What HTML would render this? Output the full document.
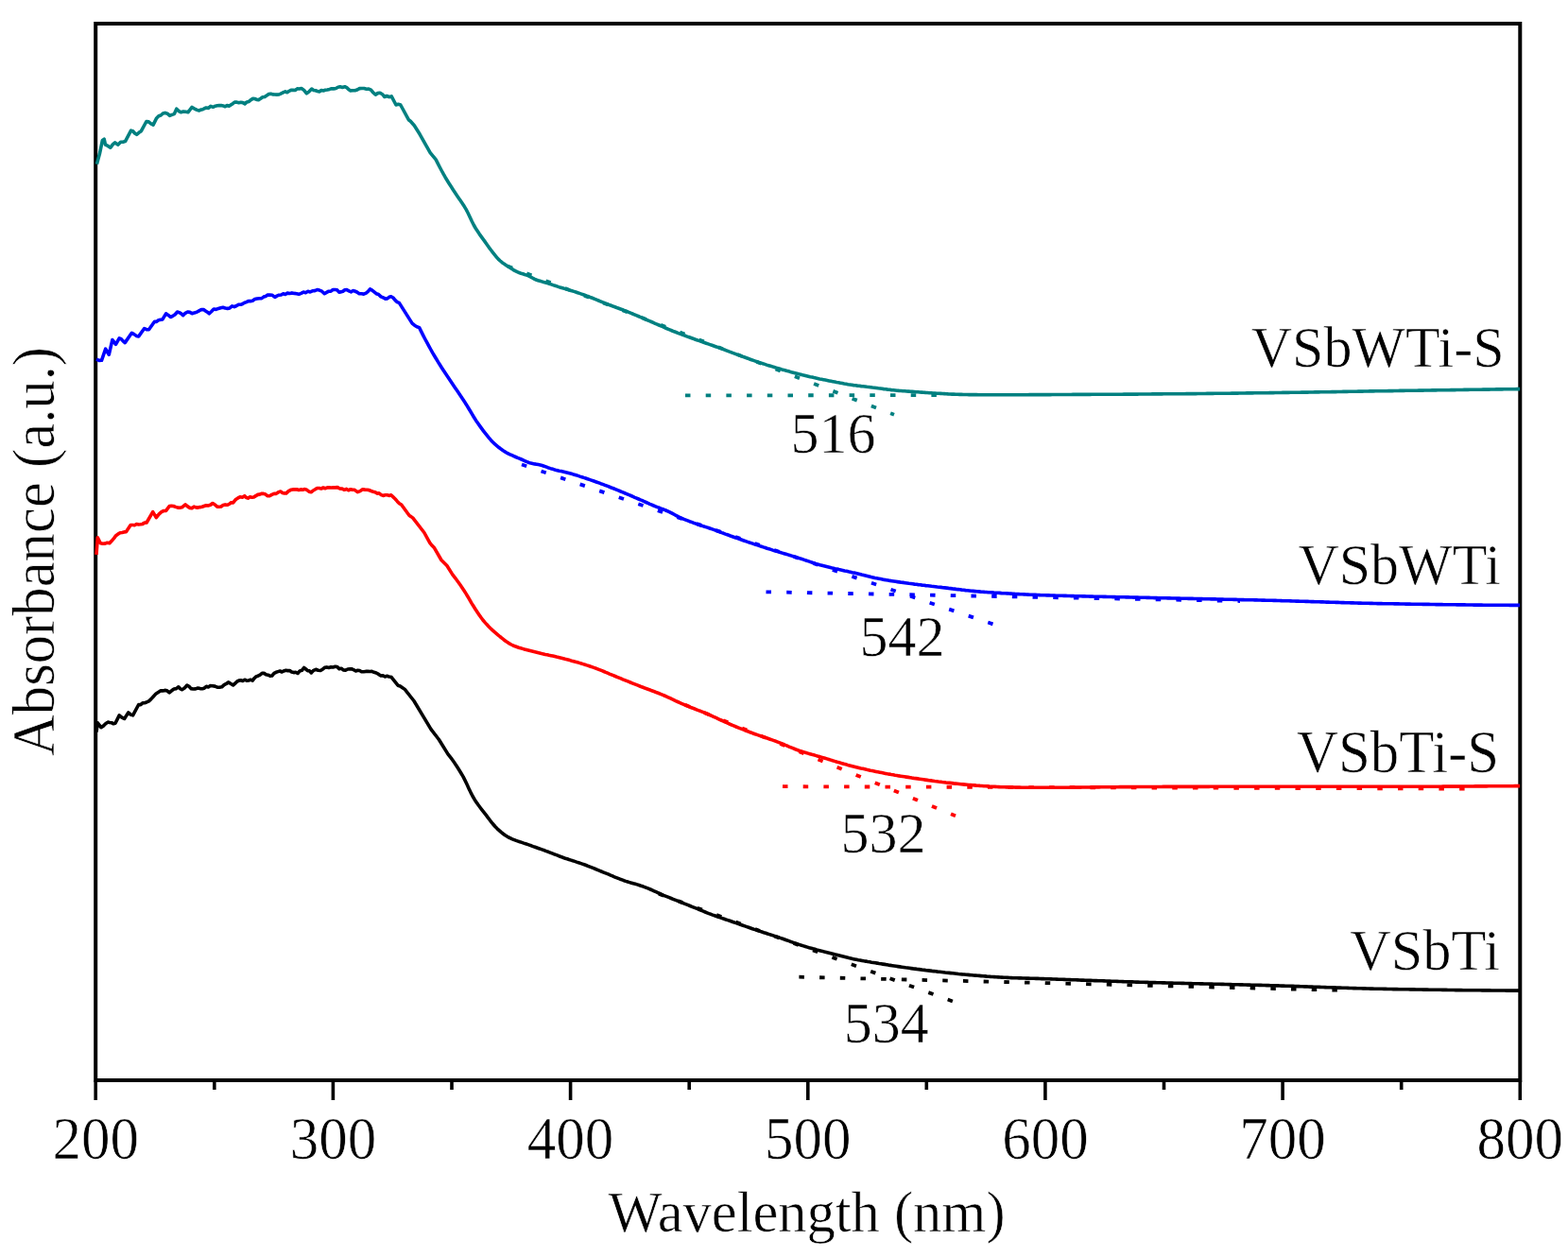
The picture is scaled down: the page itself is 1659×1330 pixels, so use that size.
<!DOCTYPE html>
<html><head><meta charset="utf-8"><title>UV-Vis Absorbance</title>
<style>html,body{margin:0;padding:0;background:#fff;width:1659px;height:1330px;overflow:hidden}svg{display:block}text{font-family:"Liberation Serif","Times New Roman",serif;fill:#000;stroke:#fff;stroke-width:0.6px}</style></head><body>
<svg width="1659" height="1330" viewBox="0 0 1659 1330">
<rect width="1659" height="1330" fill="#fff"/>
<rect x="101.2" y="25" width="1507.1" height="1118" fill="none" stroke="#000" stroke-width="4"/>
<path d="M101.2 1143 V1164 M226.8 1143 V1153 M352.4 1143 V1164 M478 1143 V1153 M603.6 1143 V1164 M729.2 1143 V1153 M854.8 1143 V1164 M980.3 1143 V1153 M1105.9 1143 V1164 M1231.5 1143 V1153 M1357.1 1143 V1164 M1482.7 1143 V1153 M1608.3 1143 V1164" stroke="#000" stroke-width="3.6" fill="none"/>
<g stroke-linecap="butt">
<line x1="725" y1="418.4" x2="1000" y2="418.1" stroke="#008080" stroke-width="3.8" stroke-dasharray="5.5 16.2"/>
<line x1="537" y1="281.6" x2="946" y2="438.7" stroke="#008080" stroke-width="3.8" stroke-dasharray="5.5 16.2"/>
<line x1="810.5" y1="626.3" x2="1312" y2="636" stroke="#0000ff" stroke-width="3.8" stroke-dasharray="5.5 16.2"/>
<line x1="552" y1="491.5" x2="1051" y2="660.5" stroke="#0000ff" stroke-width="3.8" stroke-dasharray="5.5 16.2"/>
<line x1="828" y1="832.2" x2="1560" y2="834.6" stroke="#ff0000" stroke-width="3.8" stroke-dasharray="5.5 16.2"/>
<line x1="725" y1="745.8" x2="1011" y2="863.2" stroke="#ff0000" stroke-width="3.8" stroke-dasharray="5.5 16.2"/>
<line x1="845.4" y1="1033.7" x2="1420" y2="1047.8" stroke="#000" stroke-width="3.8" stroke-dasharray="5.5 16.2"/>
<line x1="697" y1="945.8" x2="1008" y2="1059.5" stroke="#000" stroke-width="3.8" stroke-dasharray="5.5 16.2"/>
</g>
<path d="M102.4 173.7 L105.4 162.8 L108.4 148.4 L110.2 147.2 L111.5 153.2 L114.2 154.4 L116.9 156.2 L119.3 152.9 L121.7 150.8 L124.7 153.2 L127.7 150.2 L130.1 150.2 L132.5 149.6 L138.6 138.1 L140.6 138.7 L142.6 141 L144.6 142.3 L147 140.3 L149.4 138.7 L154.9 128.5 L157.3 128.9 L159.7 130.9 L162.1 132.1 L165.7 124.9 L167.9 122.7 L170.2 122 L172.4 120 L174.7 119.4 L177.1 120.2 L179.6 122.4 L182 121.4 L184.4 120.6 L186.8 115.2 L189.2 117.6 L191.6 118.8 L194 118.1 L196.5 118.3 L198.9 118.8 L203.1 113.4 L205.8 115.1 L208.5 116.4 L210.5 117 L212.5 116.1 L214.5 115.8 L216.3 114.7 L218.1 114 L220.5 114.4 L222.9 112.3 L225.4 113.3 L227.8 112.2 L229.9 111.8 L231.9 111.6 L234 111.5 L236.1 111.9 L238.2 112.8 L240.2 111.6 L242.3 112.2 L244.3 110.9 L246.3 109.7 L248.3 108 L250.5 108.1 L252.6 108.8 L254.8 108.3 L256.9 108.6 L259.1 109.8 L261.2 107.9 L263.4 107.4 L265.5 105.6 L267.6 104.4 L269.6 104.5 L271.6 105.4 L273.6 105.6 L275.8 104.3 L277.9 102.8 L280.1 102.5 L282.2 101.1 L284.4 99.5 L286.5 99.2 L288.6 99.9 L290.8 100 L292.9 100.1 L295.3 100 L297.6 98.9 L300 97.7 L301.9 96.9 L303.8 97.8 L305.7 96.5 L307.9 95.3 L310.1 95.4 L312.3 95.5 L314.5 93.9 L316.7 94 L318.9 93.5 L321.6 95.4 L324.4 98.9 L327.1 96.8 L329.8 94.1 L331.8 95.4 L333.8 95.8 L335.8 96.5 L337.9 96.9 L340 95.6 L342.1 96 L344.2 95.3 L346.4 95 L348.7 94.4 L350.9 93.7 L353.2 93.9 L355.4 93.5 L357.7 92.2 L359.9 91.7 L362.3 92.4 L364.8 91.7 L367.2 92.9 L369 94.8 L370.8 95.9 L373.2 95.7 L375.6 95.8 L378 95 L380.4 93.6 L382.8 93.5 L385.2 93.5 L387.7 94.2 L390.1 94.1 L392.5 95.2 L394.9 98 L397.3 100.1 L399.7 98.6 L402.1 98.3 L404.5 99.7 L406.9 102.5 L409.3 101.5 L411.8 102.6 L414.2 101.9 L419 111 L421.4 110.3 L423.8 111 L432.3 126.7 L434.3 128.2 L436.3 130.5 L438.3 132.7 L444.3 142.3 L455.2 161.6 L461.2 168.9 L463.2 172.9 L465.2 176.8 L467.2 180.5 L469.2 184.2 L471.2 187.7 L473.2 191 L475.2 194.2 L477.2 197.3 L479.2 200.4 L481.2 203.4 L483.2 206.5 L485.2 209.4 L487.2 212.3 L489.2 215.2 L491.2 218.3 L493.2 221.7 L495.2 225.5 L497.2 229.7 L499.2 234 L501.2 238 L503.2 241.5 L505.2 244.6 L507.2 247.6 L509.2 250.4 L511.2 253.1 L513.2 255.9 L515.2 258.7 L517.2 261.6 L519.2 264.3 L521.2 266.9 L523.2 269.4 L525.2 271.8 L527.2 274.1 L529.2 276 L531.2 277.7 L533.2 279.1 L535.2 280.4 L537.2 281.7 L539.2 283 L541.2 284.3 L543.2 285.6 L545.2 286.7 L547.2 287.7 L549.2 288.5 L551.2 289.2 L553.2 289.8 L555.2 290.5 L557.2 291.1 L559.2 291.9 L561.2 292.9 L563.2 294 L565.2 295.1 L567.2 296 L569.2 296.7 L571.2 297.3 L573.2 297.9 L575.2 298.5 L577.2 299 L579.2 299.6 L581.2 300.2 L583.2 300.9 L585.2 301.6 L587.2 302.2 L589.2 302.9 L591.2 303.6 L593.2 304.2 L595.2 304.8 L597.2 305.4 L599.2 306 L601.2 306.6 L603.2 307.2 L605.2 307.8 L607.2 308.4 L609.2 309 L611.2 309.7 L613.2 310.4 L615.2 311.1 L617.2 311.8 L619.2 312.5 L621.2 313.3 L623.2 314 L625.2 314.8 L627.2 315.5 L629.2 316.3 L631.2 317.2 L633.2 318 L635.2 318.8 L637.2 319.7 L639.2 320.5 L641.2 321.3 L643.2 322 L645.2 322.8 L647.2 323.5 L649.2 324.3 L651.2 325 L653.2 325.8 L655.2 326.5 L657.2 327.2 L659.2 328 L661.2 328.8 L663.2 329.5 L665.2 330.3 L667.2 331.2 L669.2 332 L671.2 332.8 L673.2 333.7 L675.2 334.5 L677.2 335.4 L679.2 336.2 L681.2 337.1 L683.2 338 L685.2 338.8 L687.2 339.7 L689.2 340.5 L691.2 341.4 L693.2 342.3 L695.2 343.1 L697.2 344 L699.2 344.9 L701.2 345.7 L703.2 346.6 L705.2 347.5 L707.2 348.3 L709.2 349.1 L711.2 350 L713.2 350.8 L715.2 351.5 L717.2 352.3 L719.2 353.1 L721.2 353.8 L723.2 354.6 L725.2 355.3 L727.2 356.1 L729.2 356.8 L731.2 357.5 L733.2 358.2 L735.2 359 L737.2 359.7 L739.2 360.4 L741.2 361.1 L743.2 361.8 L745.2 362.5 L747.2 363.2 L749.2 363.9 L751.2 364.6 L753.2 365.3 L755.2 366 L757.2 366.7 L759.2 367.4 L761.2 368.1 L763.2 368.9 L765.2 369.6 L767.2 370.3 L769.2 371.1 L771.2 371.9 L773.2 372.6 L775.2 373.4 L777.2 374.1 L779.2 374.9 L781.2 375.6 L783.2 376.4 L785.2 377.1 L787.2 377.8 L789.2 378.5 L791.2 379.2 L793.2 380 L795.2 380.7 L797.2 381.4 L799.2 382.1 L801.2 382.8 L803.2 383.5 L805.2 384.1 L807.2 384.8 L809.2 385.4 L811.2 386.1 L813.2 386.7 L815.2 387.3 L817.2 387.9 L819.2 388.5 L821.2 389.1 L823.2 389.7 L825.2 390.3 L827.2 390.9 L829.2 391.4 L831.2 392 L833.2 392.6 L835.2 393.1 L837.2 393.7 L839.2 394.2 L841.2 394.7 L843.2 395.2 L845.2 395.8 L847.2 396.3 L849.2 396.8 L851.2 397.2 L853.2 397.7 L855.2 398.2 L857.2 398.7 L859.2 399.1 L861.2 399.6 L863.2 400 L865.2 400.4 L867.2 400.9 L869.2 401.3 L871.2 401.7 L873.2 402.1 L875.2 402.5 L877.2 402.9 L879.2 403.3 L881.2 403.7 L883.2 404.1 L885.2 404.5 L887.2 404.8 L889.2 405.2 L891.2 405.6 L893.2 406 L895.2 406.3 L897.2 406.7 L899.2 407 L901.2 407.3 L903.2 407.6 L905.2 407.8 L907.2 408.1 L909.2 408.3 L911.2 408.6 L913.2 408.8 L915.2 409 L917.2 409.3 L919.2 409.5 L921.2 409.7 L923.2 410 L925.2 410.2 L927.2 410.5 L929.2 410.8 L931.2 411 L933.2 411.3 L935.2 411.6 L937.2 411.8 L939.2 412.1 L941.2 412.3 L943.2 412.6 L945.2 412.8 L947.2 413 L949.2 413.2 L951.2 413.4 L953.2 413.5 L955.2 413.7 L957.2 413.8 L959.2 414 L961.2 414.1 L963.2 414.3 L965.2 414.4 L967.2 414.5 L969.2 414.7 L971.2 414.8 L973.2 415 L975.2 415.1 L977.2 415.2 L979.2 415.4 L981.2 415.5 L983.2 415.7 L985.2 415.8 L987.2 416 L989.2 416.1 L991.2 416.2 L993.2 416.3 L995.2 416.4 L997.2 416.5 L999.2 416.6 L1001.2 416.7 L1003.2 416.9 L1005.2 417 L1007.2 417.1 L1009.2 417.1 L1011.2 417.2 L1013.2 417.3 L1015.2 417.4 L1017.2 417.4 L1019.2 417.5 L1021.2 417.5 L1023.2 417.5 L1025.2 417.6 L1027.2 417.6 L1029.2 417.6 L1031.2 417.6 L1033.2 417.6 L1035.2 417.7 L1037.2 417.7 L1039.2 417.7 L1041.2 417.7 L1043.2 417.7 L1045.2 417.7 L1047.2 417.7 L1049.2 417.7 L1051.2 417.7 L1053.2 417.7 L1055.2 417.7 L1057.2 417.7 L1059.2 417.7 L1061.2 417.7 L1063.2 417.7 L1065.2 417.7 L1067.2 417.7 L1069.2 417.7 L1071.2 417.7 L1073.2 417.7 L1075.2 417.7 L1077.2 417.7 L1079.2 417.7 L1081.2 417.7 L1083.2 417.7 L1085.2 417.7 L1087.2 417.7 L1089.2 417.6 L1091.2 417.6 L1093.2 417.6 L1095.2 417.6 L1097.2 417.6 L1099.2 417.6 L1101.2 417.6 L1103.2 417.6 L1105.2 417.6 L1107.2 417.6 L1109.2 417.6 L1111.2 417.6 L1113.2 417.5 L1115.2 417.5 L1117.2 417.5 L1119.2 417.5 L1121.2 417.5 L1123.2 417.5 L1125.2 417.5 L1127.2 417.5 L1129.2 417.5 L1131.2 417.5 L1133.2 417.5 L1135.2 417.4 L1137.2 417.4 L1139.2 417.4 L1141.2 417.4 L1143.2 417.4 L1145.2 417.4 L1147.2 417.4 L1149.2 417.4 L1151.2 417.4 L1153.2 417.4 L1155.2 417.3 L1157.2 417.3 L1159.2 417.3 L1161.2 417.3 L1163.2 417.3 L1165.2 417.3 L1167.2 417.3 L1169.2 417.3 L1171.2 417.3 L1173.2 417.2 L1175.2 417.2 L1177.2 417.2 L1179.2 417.2 L1181.2 417.2 L1183.2 417.2 L1185.2 417.2 L1187.2 417.2 L1189.2 417.1 L1191.2 417.1 L1193.2 417.1 L1195.2 417.1 L1197.2 417.1 L1199.2 417.1 L1201.2 417.1 L1203.2 417.1 L1205.2 417 L1207.2 417 L1209.2 417 L1211.2 417 L1213.2 417 L1215.2 417 L1217.2 417 L1219.2 416.9 L1221.2 416.9 L1223.2 416.9 L1225.2 416.9 L1227.2 416.9 L1229.2 416.9 L1231.2 416.8 L1233.2 416.8 L1235.2 416.8 L1237.2 416.8 L1239.2 416.8 L1241.2 416.8 L1243.2 416.7 L1245.2 416.7 L1247.2 416.7 L1249.2 416.7 L1251.2 416.7 L1253.2 416.7 L1255.2 416.6 L1257.2 416.6 L1259.2 416.6 L1261.2 416.6 L1263.2 416.6 L1265.2 416.6 L1267.2 416.5 L1269.2 416.5 L1271.2 416.5 L1273.2 416.5 L1275.2 416.5 L1277.2 416.4 L1279.2 416.4 L1281.2 416.4 L1283.2 416.4 L1285.2 416.3 L1287.2 416.3 L1289.2 416.3 L1291.2 416.3 L1293.2 416.3 L1295.2 416.2 L1297.2 416.2 L1299.2 416.2 L1301.2 416.2 L1303.2 416.1 L1305.2 416.1 L1307.2 416.1 L1309.2 416.1 L1311.2 416 L1313.2 416 L1315.2 416 L1317.2 416 L1319.2 415.9 L1321.2 415.9 L1323.2 415.9 L1325.2 415.9 L1327.2 415.8 L1329.2 415.8 L1331.2 415.8 L1333.2 415.8 L1335.2 415.7 L1337.2 415.7 L1339.2 415.7 L1341.2 415.7 L1343.2 415.6 L1345.2 415.6 L1347.2 415.6 L1349.2 415.5 L1351.2 415.5 L1353.2 415.5 L1355.2 415.5 L1357.2 415.4 L1359.2 415.4 L1361.2 415.4 L1363.2 415.4 L1365.2 415.3 L1367.2 415.3 L1369.2 415.3 L1371.2 415.2 L1373.2 415.2 L1375.2 415.2 L1377.2 415.1 L1379.2 415.1 L1381.2 415.1 L1383.2 415.1 L1385.2 415 L1387.2 415 L1389.2 415 L1391.2 414.9 L1393.2 414.9 L1395.2 414.9 L1397.2 414.8 L1399.2 414.8 L1401.2 414.8 L1403.2 414.7 L1405.2 414.7 L1407.2 414.7 L1409.2 414.6 L1411.2 414.6 L1413.2 414.6 L1415.2 414.5 L1417.2 414.5 L1419.2 414.5 L1421.2 414.4 L1423.2 414.4 L1425.2 414.4 L1427.2 414.3 L1429.2 414.3 L1431.2 414.2 L1433.2 414.2 L1435.2 414.2 L1437.2 414.1 L1439.2 414.1 L1441.2 414.1 L1443.2 414 L1445.2 414 L1447.2 414 L1449.2 413.9 L1451.2 413.9 L1453.2 413.9 L1455.2 413.8 L1457.2 413.8 L1459.2 413.8 L1461.2 413.7 L1463.2 413.7 L1465.2 413.7 L1467.2 413.7 L1469.2 413.6 L1471.2 413.6 L1473.2 413.6 L1475.2 413.5 L1477.2 413.5 L1479.2 413.5 L1481.2 413.4 L1483.2 413.4 L1485.2 413.4 L1487.2 413.3 L1489.2 413.3 L1491.2 413.3 L1493.2 413.3 L1495.2 413.2 L1497.2 413.2 L1499.2 413.2 L1501.2 413.1 L1503.2 413.1 L1505.2 413.1 L1507.2 413 L1509.2 413 L1511.2 413 L1513.2 413 L1515.2 412.9 L1517.2 412.9 L1519.2 412.9 L1521.2 412.8 L1523.2 412.8 L1525.2 412.8 L1527.2 412.7 L1529.2 412.7 L1531.2 412.7 L1533.2 412.7 L1535.2 412.6 L1537.2 412.6 L1539.2 412.6 L1541.2 412.5 L1543.2 412.5 L1545.2 412.5 L1547.2 412.5 L1549.2 412.4 L1551.2 412.4 L1553.2 412.4 L1555.2 412.3 L1557.2 412.3 L1559.2 412.3 L1561.2 412.3 L1563.2 412.2 L1565.2 412.2 L1567.2 412.2 L1569.2 412.1 L1571.2 412.1 L1573.2 412.1 L1575.2 412.1 L1577.2 412 L1579.2 412 L1581.2 412 L1583.2 411.9 L1585.2 411.9 L1587.2 411.9 L1589.2 411.9 L1591.2 411.8 L1593.2 411.8 L1595.2 411.8 L1597.2 411.7 L1599.2 411.7 L1601.2 411.7 L1603.2 411.7 L1605.2 411.6 L1607.2 411.6 L1608 411.6" fill="none" stroke="#008080" stroke-width="3.6" stroke-linejoin="round"/>
<path d="M102 380.1 L104.8 381.4 L107.5 381.3 L111.7 369.2 L115.3 375.2 L118.9 359.6 L122.5 364.4 L126.2 357.8 L128.2 358.6 L130.2 360.9 L132.2 362.6 L139.4 352.3 L141.8 353.6 L144.3 355.4 L146.7 355.9 L152.7 347.5 L155.1 348.7 L157.5 348.7 L163.5 340.3 L165.6 340.4 L167.8 338.7 L169.9 338.3 L172 337.9 L175.6 331.8 L178 333.4 L180.4 335.5 L182.8 334.4 L185.2 332.7 L187.6 330 L189.6 330.6 L191.7 331.8 L193.7 333.6 L196.1 331.3 L198.5 330 L200.9 330.4 L203.3 331.8 L205.7 330.9 L208.1 330.3 L210.6 328.9 L213 327.5 L215.4 327.6 L217.4 328.9 L219.4 330.2 L221.4 331.8 L223.8 329.5 L226.2 327 L228.6 327.4 L231.1 326.4 L233.5 325.7 L235.9 325.2 L238.3 326 L240.7 326.4 L243.1 325.9 L245.5 323.9 L247.9 324.6 L250.3 323.5 L252.7 322.2 L254.7 322.3 L256.7 321.5 L258.8 320.2 L260.8 319.6 L262.8 318.5 L264.8 318.6 L267.2 318.2 L269.6 316.6 L272.1 316 L274.5 315.7 L276.9 315.6 L279 314.1 L281.1 313.5 L283.2 312.1 L285.3 312 L288.1 312.3 L290.8 314.4 L293 313.1 L295.2 312.2 L297.5 312 L299.7 310.7 L301.9 311.5 L304.1 310.1 L306.5 310.5 L308.9 309.9 L311.4 310.4 L313.8 310.8 L316.2 311.3 L318.6 310.3 L321 309.1 L323.4 309.7 L325.8 308.3 L328.2 308.9 L330.6 307.8 L333.1 307.6 L335.5 306.6 L337.9 307.1 L340.6 308.2 L343.3 310.7 L345.6 309.4 L347.8 308.2 L350.1 308.1 L352.3 306.5 L354.4 306.5 L356.6 306.8 L358.7 309.1 L360.8 308.9 L362.8 308.2 L364.8 306.7 L366.8 306.5 L369.2 307.8 L371.6 308.9 L373.4 307.6 L375.2 308 L377.6 309 L380.1 310.7 L382.5 310.7 L384.9 311.1 L387.3 310.1 L389.4 308.4 L391.5 305.9 L393.7 307.1 L395.9 308.9 L398.1 310.7 L400.5 311.5 L403 313.9 L405.4 314.9 L407.8 316.2 L409.8 315.9 L411.8 314.3 L413.8 313.8 L415.9 315 L418.1 317.7 L420.2 319.6 L422.3 320.4 L436.1 342.1 L438.6 344.2 L441.1 345.7 L443.6 346.6 L445.6 350.6 L447.6 354.6 L449.6 358.5 L451.6 362.2 L453.6 365.9 L455.6 369.5 L457.6 373.1 L459.6 376.5 L461.6 379.8 L463.6 383.1 L465.6 386.3 L467.6 389.4 L469.6 392.5 L471.6 395.5 L473.6 398.4 L475.6 401.4 L477.6 404.4 L479.6 407.4 L481.6 410.4 L483.6 413.3 L485.6 416.3 L487.6 419.3 L489.6 422.3 L491.6 425.3 L493.6 428.4 L495.6 431.7 L497.6 435 L499.6 438.4 L501.6 441.7 L503.6 444.9 L505.6 447.8 L507.6 450.6 L509.6 453.4 L511.6 456.1 L513.6 458.7 L515.6 461.2 L517.6 463.6 L519.6 465.9 L521.6 468 L523.6 469.9 L525.6 471.6 L527.6 473.3 L529.6 474.8 L531.6 476.2 L533.6 477.6 L535.6 478.8 L537.6 479.8 L539.6 480.8 L541.6 481.7 L543.6 482.6 L545.6 483.5 L547.6 484.4 L549.6 485.2 L551.6 486 L553.6 486.9 L555.6 487.8 L557.6 488.7 L559.6 489.5 L561.6 490.1 L563.6 490.5 L565.6 490.9 L567.6 491.2 L569.6 491.6 L571.6 492 L573.6 492.5 L575.6 493.2 L577.6 493.9 L579.6 494.7 L581.6 495.4 L583.6 496.1 L585.6 496.6 L587.6 497.2 L589.6 497.7 L591.6 498.2 L593.6 498.6 L595.6 499.1 L597.6 499.6 L599.6 500.1 L601.6 500.6 L603.6 501.1 L605.6 501.6 L607.6 502.2 L609.6 502.8 L611.6 503.4 L613.6 504.1 L615.6 504.7 L617.6 505.4 L619.6 506 L621.6 506.7 L623.6 507.4 L625.6 508.1 L627.6 508.8 L629.6 509.5 L631.6 510.2 L633.6 510.9 L635.6 511.7 L637.6 512.4 L639.6 513.2 L641.6 513.9 L643.6 514.7 L645.6 515.5 L647.6 516.3 L649.6 517 L651.6 517.8 L653.6 518.7 L655.6 519.5 L657.6 520.3 L659.6 521.1 L661.6 522 L663.6 522.8 L665.6 523.7 L667.6 524.5 L669.6 525.4 L671.6 526.3 L673.6 527.1 L675.6 528 L677.6 528.9 L679.6 529.7 L681.6 530.6 L683.6 531.5 L685.6 532.4 L687.6 533.3 L689.6 534.1 L691.6 535 L693.6 535.8 L695.6 536.6 L697.6 537.3 L699.6 538.1 L701.6 538.8 L703.6 539.6 L705.6 540.5 L707.6 541.3 L709.6 542.3 L711.6 543.4 L713.6 544.5 L715.6 545.6 L717.6 546.7 L719.6 547.6 L721.6 548.5 L723.6 549.3 L725.6 550.1 L727.6 550.9 L729.6 551.7 L731.6 552.4 L733.6 553.2 L735.6 553.9 L737.6 554.6 L739.6 555.3 L741.6 556 L743.6 556.6 L745.6 557.3 L747.6 557.9 L749.6 558.5 L751.6 559.2 L753.6 559.9 L755.6 560.6 L757.6 561.3 L759.6 562.1 L761.6 562.8 L763.6 563.6 L765.6 564.3 L767.6 565.1 L769.6 565.8 L771.6 566.5 L773.6 567.3 L775.6 568 L777.6 568.7 L779.6 569.4 L781.6 570.1 L783.6 570.8 L785.6 571.5 L787.6 572.2 L789.6 572.9 L791.6 573.6 L793.6 574.3 L795.6 574.9 L797.6 575.6 L799.6 576.3 L801.6 576.9 L803.6 577.6 L805.6 578.2 L807.6 578.9 L809.6 579.5 L811.6 580.2 L813.6 580.8 L815.6 581.4 L817.6 582.1 L819.6 582.7 L821.6 583.3 L823.6 583.9 L825.6 584.5 L827.6 585.1 L829.6 585.7 L831.6 586.3 L833.6 586.9 L835.6 587.5 L837.6 588.1 L839.6 588.7 L841.6 589.3 L843.6 590 L845.6 590.6 L847.6 591.2 L849.6 591.9 L851.6 592.6 L853.6 593.3 L855.6 593.9 L857.6 594.6 L859.6 595.3 L861.6 595.9 L863.6 596.6 L865.6 597.2 L867.6 597.8 L869.6 598.3 L871.6 598.8 L873.6 599.3 L875.6 599.8 L877.6 600.3 L879.6 600.8 L881.6 601.2 L883.6 601.7 L885.6 602.1 L887.6 602.6 L889.6 603 L891.6 603.4 L893.6 603.9 L895.6 604.3 L897.6 604.8 L899.6 605.2 L901.6 605.7 L903.6 606.1 L905.6 606.6 L907.6 607.1 L909.6 607.6 L911.6 608.1 L913.6 608.5 L915.6 609 L917.6 609.5 L919.6 610 L921.6 610.5 L923.6 610.9 L925.6 611.4 L927.6 611.8 L929.6 612.2 L931.6 612.6 L933.6 613 L935.6 613.4 L937.6 613.7 L939.6 614 L941.6 614.4 L943.6 614.7 L945.6 615 L947.6 615.3 L949.6 615.6 L951.6 615.9 L953.6 616.2 L955.6 616.4 L957.6 616.7 L959.6 617 L961.6 617.3 L963.6 617.5 L965.6 617.8 L967.6 618.1 L969.6 618.3 L971.6 618.6 L973.6 618.8 L975.6 619.1 L977.6 619.3 L979.6 619.6 L981.6 619.8 L983.6 620 L985.6 620.3 L987.6 620.5 L989.6 620.7 L991.6 621 L993.6 621.2 L995.6 621.4 L997.6 621.7 L999.6 621.9 L1001.6 622.1 L1003.6 622.4 L1005.6 622.6 L1007.6 622.9 L1009.6 623.1 L1011.6 623.4 L1013.6 623.6 L1015.6 623.8 L1017.6 624.1 L1019.6 624.3 L1021.6 624.6 L1023.6 624.8 L1025.6 625 L1027.6 625.2 L1029.6 625.4 L1031.6 625.6 L1033.6 625.8 L1035.6 625.9 L1037.6 626.1 L1039.6 626.2 L1041.6 626.4 L1043.6 626.5 L1045.6 626.7 L1047.6 626.8 L1049.6 626.9 L1051.6 627.1 L1053.6 627.2 L1055.6 627.3 L1057.6 627.4 L1059.6 627.6 L1061.6 627.7 L1063.6 627.8 L1065.6 627.9 L1067.6 628 L1069.6 628.1 L1071.6 628.2 L1073.6 628.4 L1075.6 628.5 L1077.6 628.6 L1079.6 628.7 L1081.6 628.8 L1083.6 628.9 L1085.6 629 L1087.6 629.1 L1089.6 629.2 L1091.6 629.3 L1093.6 629.4 L1095.6 629.4 L1097.6 629.5 L1099.6 629.6 L1101.6 629.7 L1103.6 629.7 L1105.6 629.8 L1107.6 629.9 L1109.6 629.9 L1111.6 630 L1113.6 630 L1115.6 630.1 L1117.6 630.2 L1119.6 630.2 L1121.6 630.3 L1123.6 630.3 L1125.6 630.4 L1127.6 630.4 L1129.6 630.5 L1131.6 630.5 L1133.6 630.6 L1135.6 630.6 L1137.6 630.7 L1139.6 630.7 L1141.6 630.8 L1143.6 630.8 L1145.6 630.9 L1147.6 630.9 L1149.6 631 L1151.6 631 L1153.6 631.1 L1155.6 631.1 L1157.6 631.2 L1159.6 631.2 L1161.6 631.2 L1163.6 631.3 L1165.6 631.3 L1167.6 631.4 L1169.6 631.4 L1171.6 631.5 L1173.6 631.5 L1175.6 631.5 L1177.6 631.6 L1179.6 631.6 L1181.6 631.7 L1183.6 631.7 L1185.6 631.8 L1187.6 631.8 L1189.6 631.8 L1191.6 631.9 L1193.6 631.9 L1195.6 632 L1197.6 632 L1199.6 632.1 L1201.6 632.1 L1203.6 632.1 L1205.6 632.2 L1207.6 632.2 L1209.6 632.3 L1211.6 632.3 L1213.6 632.4 L1215.6 632.4 L1217.6 632.5 L1219.6 632.5 L1221.6 632.6 L1223.6 632.6 L1225.6 632.7 L1227.6 632.7 L1229.6 632.7 L1231.6 632.8 L1233.6 632.8 L1235.6 632.9 L1237.6 632.9 L1239.6 633 L1241.6 633 L1243.6 633 L1245.6 633.1 L1247.6 633.1 L1249.6 633.2 L1251.6 633.2 L1253.6 633.3 L1255.6 633.3 L1257.6 633.4 L1259.6 633.4 L1261.6 633.4 L1263.6 633.5 L1265.6 633.5 L1267.6 633.6 L1269.6 633.6 L1271.6 633.6 L1273.6 633.7 L1275.6 633.7 L1277.6 633.8 L1279.6 633.8 L1281.6 633.9 L1283.6 633.9 L1285.6 633.9 L1287.6 634 L1289.6 634 L1291.6 634.1 L1293.6 634.1 L1295.6 634.2 L1297.6 634.2 L1299.6 634.3 L1301.6 634.3 L1303.6 634.3 L1305.6 634.4 L1307.6 634.4 L1309.6 634.5 L1311.6 634.5 L1313.6 634.6 L1315.6 634.6 L1317.6 634.7 L1319.6 634.7 L1321.6 634.8 L1323.6 634.8 L1325.6 634.8 L1327.6 634.9 L1329.6 634.9 L1331.6 635 L1333.6 635 L1335.6 635.1 L1337.6 635.1 L1339.6 635.2 L1341.6 635.2 L1343.6 635.3 L1345.6 635.3 L1347.6 635.4 L1349.6 635.4 L1351.6 635.5 L1353.6 635.5 L1355.6 635.6 L1357.6 635.7 L1359.6 635.7 L1361.6 635.8 L1363.6 635.8 L1365.6 635.9 L1367.6 636 L1369.6 636 L1371.6 636.1 L1373.6 636.1 L1375.6 636.2 L1377.6 636.3 L1379.6 636.3 L1381.6 636.4 L1383.6 636.4 L1385.6 636.5 L1387.6 636.6 L1389.6 636.6 L1391.6 636.7 L1393.6 636.8 L1395.6 636.8 L1397.6 636.9 L1399.6 636.9 L1401.6 637 L1403.6 637.1 L1405.6 637.1 L1407.6 637.2 L1409.6 637.3 L1411.6 637.3 L1413.6 637.4 L1415.6 637.4 L1417.6 637.5 L1419.6 637.6 L1421.6 637.6 L1423.6 637.7 L1425.6 637.7 L1427.6 637.8 L1429.6 637.9 L1431.6 637.9 L1433.6 638 L1435.6 638 L1437.6 638.1 L1439.6 638.1 L1441.6 638.2 L1443.6 638.2 L1445.6 638.3 L1447.6 638.3 L1449.6 638.4 L1451.6 638.4 L1453.6 638.5 L1455.6 638.5 L1457.6 638.6 L1459.6 638.6 L1461.6 638.6 L1463.6 638.7 L1465.6 638.7 L1467.6 638.7 L1469.6 638.8 L1471.6 638.8 L1473.6 638.8 L1475.6 638.9 L1477.6 638.9 L1479.6 638.9 L1481.6 639 L1483.6 639 L1485.6 639 L1487.6 639.1 L1489.6 639.1 L1491.6 639.1 L1493.6 639.2 L1495.6 639.2 L1497.6 639.2 L1499.6 639.3 L1501.6 639.3 L1503.6 639.3 L1505.6 639.4 L1507.6 639.4 L1509.6 639.4 L1511.6 639.4 L1513.6 639.5 L1515.6 639.5 L1517.6 639.5 L1519.6 639.6 L1521.6 639.6 L1523.6 639.6 L1525.6 639.6 L1527.6 639.7 L1529.6 639.7 L1531.6 639.7 L1533.6 639.8 L1535.6 639.8 L1537.6 639.8 L1539.6 639.8 L1541.6 639.9 L1543.6 639.9 L1545.6 639.9 L1547.6 639.9 L1549.6 639.9 L1551.6 640 L1553.6 640 L1555.6 640 L1557.6 640 L1559.6 640.1 L1561.6 640.1 L1563.6 640.1 L1565.6 640.1 L1567.6 640.1 L1569.6 640.2 L1571.6 640.2 L1573.6 640.2 L1575.6 640.2 L1577.6 640.2 L1579.6 640.2 L1581.6 640.3 L1583.6 640.3 L1585.6 640.3 L1587.6 640.3 L1589.6 640.3 L1591.6 640.3 L1593.6 640.3 L1595.6 640.3 L1597.6 640.4 L1599.6 640.4 L1601.6 640.4 L1603.6 640.4 L1605.6 640.4 L1607.6 640.4 L1608 640.4" fill="none" stroke="#0000ff" stroke-width="3.6" stroke-linejoin="round"/>
<path d="M102 586.8 L103.3 568.7 L106.3 574.7 L108.7 575.3 L111.1 575.1 L113.5 574.2 L115.9 574.7 L118.2 572.3 L120.5 569.6 L122.7 566.7 L125 565.1 L127.1 563.7 L129.2 563.5 L131.3 562.9 L133.4 562.7 L138.2 555.5 L140.3 555.5 L142.4 555.7 L144.5 554.5 L146.6 555 L148.8 554.8 L150.9 554.4 L153 553.1 L155.1 553 L161.7 541.6 L165.3 547.6 L168.1 544.1 L170.8 541.6 L173.2 540.5 L175.6 540.4 L179.2 535.6 L181.4 535.3 L183.6 535.5 L185.8 536.4 L188.1 537.1 L190.3 537.2 L192.5 536.8 L194.3 535.3 L196.1 533.8 L198.5 535.9 L200.9 537.4 L203 537.7 L205.2 536.1 L207.3 536.9 L209.5 537.1 L211.6 536.6 L213.8 536.3 L215.9 535.5 L218.1 534.7 L220.2 535 L222.6 534.3 L225 532.5 L227.4 534 L229.8 536.2 L231.9 536.2 L234 536 L236.1 534.4 L238.2 533.9 L240.4 534.3 L242.5 533.4 L244.6 531.8 L246.7 531.9 L249.1 528.8 L251.5 527.1 L253.9 525.7 L256.4 526.2 L258.8 524.7 L260.6 526.5 L262.4 527.1 L264.5 525.8 L266.5 526.3 L268.6 525.9 L270.7 524.6 L272.8 523.4 L274.8 523.1 L276.9 522.3 L278.9 522.4 L280.9 523 L282.9 524.7 L285.2 524.8 L287.6 523.4 L289.9 522.4 L292.2 522.4 L294.6 520.7 L296.9 520.1 L298.9 521.4 L300.9 521.9 L302.9 521.9 L305.3 519.6 L307.7 518.3 L309.8 517.9 L311.9 517.9 L314 517.8 L316.1 518.5 L318.3 517.9 L320.4 518.2 L322.5 517.6 L324.6 518.3 L327 520.2 L329.4 520.7 L331.4 519 L333.5 517.8 L335.5 516.5 L337.7 516.5 L339.8 517 L342 516 L344.1 516.8 L346.3 515.9 L348.4 515.9 L350.5 516 L352.6 515.9 L354.7 515.9 L357.1 515.6 L359.5 517 L362 517.1 L364.4 518.3 L366.6 517.4 L368.7 518.8 L370.9 517.7 L373 518.3 L375.2 518.3 L378.3 520.7 L381 519.6 L383.7 517.7 L386.1 518.1 L388.5 518.3 L390.6 518.6 L392.7 519.5 L394.8 520.2 L396.9 520.7 L399 522.1 L401.1 521.8 L403.3 523.6 L405.4 524.4 L407.5 523.8 L409.6 523.7 L411.7 524.4 L413.8 523.8 L416 525.9 L418.2 528 L420.3 530.4 L422.5 532.7 L424.7 534 L433.1 545.5 L434.9 546.6 L436.7 547.9 L448.8 563.5 L454.8 574.4 L457.2 577.3 L459.6 579.8 L466.9 592.5 L468.9 594.5 L470.9 596.5 L472.9 598.5 L478.9 608.1 L480.9 610.6 L482.9 613.3 L484.9 616 L486.9 618.8 L488.9 621.7 L490.9 624.7 L492.9 627.9 L494.9 631.2 L496.9 634.7 L498.9 638.1 L500.9 641.3 L502.9 644.4 L504.9 647.4 L506.9 650.4 L508.9 653.3 L510.9 656 L512.9 658.4 L514.9 660.6 L516.9 662.7 L518.9 664.7 L520.9 666.6 L522.9 668.4 L524.9 670.1 L526.9 671.8 L528.9 673.5 L530.9 675.1 L532.9 676.7 L534.9 678.2 L536.9 679.6 L538.9 680.9 L540.9 682 L542.9 683 L544.9 683.8 L546.9 684.5 L548.9 685.2 L550.9 685.8 L552.9 686.4 L554.9 687 L556.9 687.5 L558.9 688 L560.9 688.5 L562.9 689 L564.9 689.5 L566.9 690 L568.9 690.5 L570.9 691 L572.9 691.5 L574.9 691.9 L576.9 692.4 L578.9 692.8 L580.9 693.3 L582.9 693.7 L584.9 694.1 L586.9 694.6 L588.9 695.1 L590.9 695.5 L592.9 696 L594.9 696.5 L596.9 697 L598.9 697.6 L600.9 698.1 L602.9 698.6 L604.9 699.2 L606.9 699.7 L608.9 700.3 L610.9 700.8 L612.9 701.4 L614.9 702 L616.9 702.6 L618.9 703.2 L620.9 703.9 L622.9 704.5 L624.9 705.2 L626.9 705.9 L628.9 706.6 L630.9 707.3 L632.9 708.1 L634.9 708.9 L636.9 709.7 L638.9 710.5 L640.9 711.4 L642.9 712.2 L644.9 713.1 L646.9 713.9 L648.9 714.7 L650.9 715.5 L652.9 716.3 L654.9 717.1 L656.9 717.9 L658.9 718.8 L660.9 719.6 L662.9 720.4 L664.9 721.2 L666.9 722 L668.9 722.8 L670.9 723.6 L672.9 724.4 L674.9 725.2 L676.9 726 L678.9 726.8 L680.9 727.5 L682.9 728.3 L684.9 729 L686.9 729.7 L688.9 730.5 L690.9 731.2 L692.9 732 L694.9 732.8 L696.9 733.5 L698.9 734.3 L700.9 735.2 L702.9 736 L704.9 736.9 L706.9 737.8 L708.9 738.7 L710.9 739.7 L712.9 740.6 L714.9 741.6 L716.9 742.5 L718.9 743.4 L720.9 744.3 L722.9 745.2 L724.9 746 L726.9 746.9 L728.9 747.7 L730.9 748.5 L732.9 749.2 L734.9 750 L736.9 750.8 L738.9 751.6 L740.9 752.3 L742.9 753.1 L744.9 753.9 L746.9 754.8 L748.9 755.6 L750.9 756.5 L752.9 757.4 L754.9 758.3 L756.9 759.2 L758.9 760.1 L760.9 761.1 L762.9 762 L764.9 762.9 L766.9 763.8 L768.9 764.7 L770.9 765.6 L772.9 766.5 L774.9 767.3 L776.9 768.1 L778.9 769 L780.9 769.8 L782.9 770.6 L784.9 771.4 L786.9 772.2 L788.9 773 L790.9 773.7 L792.9 774.5 L794.9 775.2 L796.9 776 L798.9 776.7 L800.9 777.4 L802.9 778.1 L804.9 778.8 L806.9 779.5 L808.9 780.1 L810.9 780.8 L812.9 781.5 L814.9 782.2 L816.9 782.9 L818.9 783.6 L820.9 784.3 L822.9 785.1 L824.9 785.9 L826.9 786.7 L828.9 787.5 L830.9 788.4 L832.9 789.2 L834.9 790.1 L836.9 790.9 L838.9 791.7 L840.9 792.5 L842.9 793.3 L844.9 794 L846.9 794.6 L848.9 795.3 L850.9 795.9 L852.9 796.5 L854.9 797.1 L856.9 797.7 L858.9 798.3 L860.9 798.8 L862.9 799.4 L864.9 800 L866.9 800.5 L868.9 801.1 L870.9 801.7 L872.9 802.3 L874.9 802.9 L876.9 803.5 L878.9 804.1 L880.9 804.8 L882.9 805.4 L884.9 806 L886.9 806.6 L888.9 807.1 L890.9 807.7 L892.9 808.3 L894.9 808.8 L896.9 809.4 L898.9 809.9 L900.9 810.4 L902.9 810.9 L904.9 811.4 L906.9 811.9 L908.9 812.4 L910.9 812.9 L912.9 813.3 L914.9 813.8 L916.9 814.3 L918.9 814.7 L920.9 815.2 L922.9 815.6 L924.9 816 L926.9 816.4 L928.9 816.8 L930.9 817.2 L932.9 817.6 L934.9 818 L936.9 818.4 L938.9 818.8 L940.9 819.1 L942.9 819.5 L944.9 819.8 L946.9 820.2 L948.9 820.5 L950.9 820.9 L952.9 821.2 L954.9 821.5 L956.9 821.8 L958.9 822.1 L960.9 822.4 L962.9 822.7 L964.9 823.1 L966.9 823.4 L968.9 823.6 L970.9 823.9 L972.9 824.2 L974.9 824.5 L976.9 824.8 L978.9 825.1 L980.9 825.4 L982.9 825.7 L984.9 825.9 L986.9 826.2 L988.9 826.5 L990.9 826.7 L992.9 827 L994.9 827.2 L996.9 827.5 L998.9 827.7 L1000.9 828 L1002.9 828.2 L1004.9 828.4 L1006.9 828.6 L1008.9 828.9 L1010.9 829.1 L1012.9 829.3 L1014.9 829.5 L1016.9 829.7 L1018.9 829.9 L1020.9 830.1 L1022.9 830.3 L1024.9 830.5 L1026.9 830.6 L1028.9 830.8 L1030.9 830.9 L1032.9 831.1 L1034.9 831.2 L1036.9 831.4 L1038.9 831.5 L1040.9 831.7 L1042.9 831.8 L1044.9 831.9 L1046.9 832.1 L1048.9 832.2 L1050.9 832.3 L1052.9 832.4 L1054.9 832.5 L1056.9 832.6 L1058.9 832.7 L1060.9 832.8 L1062.9 832.8 L1064.9 832.9 L1066.9 832.9 L1068.9 833 L1070.9 833 L1072.9 833 L1074.9 833.1 L1076.9 833.1 L1078.9 833.1 L1080.9 833.2 L1082.9 833.2 L1084.9 833.2 L1086.9 833.2 L1088.9 833.2 L1090.9 833.3 L1092.9 833.3 L1094.9 833.3 L1096.9 833.3 L1098.9 833.3 L1100.9 833.3 L1102.9 833.3 L1104.9 833.3 L1106.9 833.3 L1108.9 833.3 L1110.9 833.3 L1112.9 833.3 L1114.9 833.3 L1116.9 833.3 L1118.9 833.2 L1120.9 833.2 L1122.9 833.2 L1124.9 833.2 L1126.9 833.2 L1128.9 833.2 L1130.9 833.2 L1132.9 833.1 L1134.9 833.1 L1136.9 833.1 L1138.9 833.1 L1140.9 833.1 L1142.9 833.1 L1144.9 833 L1146.9 833 L1148.9 833 L1150.9 833 L1152.9 833 L1154.9 832.9 L1156.9 832.9 L1158.9 832.9 L1160.9 832.9 L1162.9 832.9 L1164.9 832.8 L1166.9 832.8 L1168.9 832.8 L1170.9 832.8 L1172.9 832.8 L1174.9 832.7 L1176.9 832.7 L1178.9 832.7 L1180.9 832.7 L1182.9 832.7 L1184.9 832.6 L1186.9 832.6 L1188.9 832.6 L1190.9 832.6 L1192.9 832.6 L1194.9 832.6 L1196.9 832.6 L1198.9 832.5 L1200.9 832.5 L1202.9 832.5 L1204.9 832.5 L1206.9 832.5 L1208.9 832.5 L1210.9 832.5 L1212.9 832.5 L1214.9 832.5 L1216.9 832.5 L1218.9 832.5 L1220.9 832.5 L1222.9 832.5 L1224.9 832.5 L1226.9 832.5 L1228.9 832.5 L1230.9 832.4 L1232.9 832.4 L1234.9 832.4 L1236.9 832.4 L1238.9 832.4 L1240.9 832.4 L1242.9 832.4 L1244.9 832.4 L1246.9 832.4 L1248.9 832.4 L1250.9 832.4 L1252.9 832.4 L1254.9 832.4 L1256.9 832.4 L1258.9 832.4 L1260.9 832.4 L1262.9 832.4 L1264.9 832.4 L1266.9 832.4 L1268.9 832.4 L1270.9 832.4 L1272.9 832.4 L1274.9 832.4 L1276.9 832.4 L1278.9 832.4 L1280.9 832.3 L1282.9 832.3 L1284.9 832.3 L1286.9 832.3 L1288.9 832.3 L1290.9 832.3 L1292.9 832.3 L1294.9 832.3 L1296.9 832.3 L1298.9 832.3 L1300.9 832.3 L1302.9 832.3 L1304.9 832.3 L1306.9 832.3 L1308.9 832.3 L1310.9 832.3 L1312.9 832.3 L1314.9 832.3 L1316.9 832.3 L1318.9 832.3 L1320.9 832.3 L1322.9 832.3 L1324.9 832.3 L1326.9 832.3 L1328.9 832.3 L1330.9 832.3 L1332.9 832.3 L1334.9 832.3 L1336.9 832.3 L1338.9 832.3 L1340.9 832.3 L1342.9 832.3 L1344.9 832.3 L1346.9 832.3 L1348.9 832.3 L1350.9 832.3 L1352.9 832.3 L1354.9 832.3 L1356.9 832.3 L1358.9 832.3 L1360.9 832.3 L1362.9 832.3 L1364.9 832.3 L1366.9 832.3 L1368.9 832.3 L1370.9 832.3 L1372.9 832.3 L1374.9 832.3 L1376.9 832.3 L1378.9 832.3 L1380.9 832.3 L1382.9 832.3 L1384.9 832.3 L1386.9 832.3 L1388.9 832.3 L1390.9 832.3 L1392.9 832.3 L1394.9 832.3 L1396.9 832.3 L1398.9 832.3 L1400.9 832.3 L1402.9 832.3 L1404.9 832.3 L1406.9 832.3 L1408.9 832.3 L1410.9 832.3 L1412.9 832.3 L1414.9 832.3 L1416.9 832.3 L1418.9 832.3 L1420.9 832.3 L1422.9 832.3 L1424.9 832.3 L1426.9 832.3 L1428.9 832.3 L1430.9 832.3 L1432.9 832.3 L1434.9 832.3 L1436.9 832.3 L1438.9 832.3 L1440.9 832.3 L1442.9 832.3 L1444.9 832.3 L1446.9 832.3 L1448.9 832.3 L1450.9 832.3 L1452.9 832.3 L1454.9 832.3 L1456.9 832.3 L1458.9 832.3 L1460.9 832.3 L1462.9 832.3 L1464.9 832.3 L1466.9 832.3 L1468.9 832.3 L1470.9 832.3 L1472.9 832.3 L1474.9 832.3 L1476.9 832.3 L1478.9 832.3 L1480.9 832.3 L1482.9 832.3 L1484.9 832.3 L1486.9 832.3 L1488.9 832.3 L1490.9 832.3 L1492.9 832.3 L1494.9 832.3 L1496.9 832.3 L1498.9 832.3 L1500.9 832.3 L1502.9 832.2 L1504.9 832.2 L1506.9 832.2 L1508.9 832.2 L1510.9 832.2 L1512.9 832.2 L1514.9 832.2 L1516.9 832.2 L1518.9 832.2 L1520.9 832.2 L1522.9 832.2 L1524.9 832.2 L1526.9 832.1 L1528.9 832.1 L1530.9 832.1 L1532.9 832.1 L1534.9 832.1 L1536.9 832.1 L1538.9 832.1 L1540.9 832.1 L1542.9 832.1 L1544.9 832 L1546.9 832 L1548.9 832 L1550.9 832 L1552.9 832 L1554.9 832 L1556.9 832 L1558.9 832 L1560.9 831.9 L1562.9 831.9 L1564.9 831.9 L1566.9 831.9 L1568.9 831.9 L1570.9 831.9 L1572.9 831.9 L1574.9 831.8 L1576.9 831.8 L1578.9 831.8 L1580.9 831.8 L1582.9 831.8 L1584.9 831.8 L1586.9 831.8 L1588.9 831.7 L1590.9 831.7 L1592.9 831.7 L1594.9 831.7 L1596.9 831.7 L1598.9 831.7 L1600.9 831.7 L1602.9 831.6 L1604.9 831.6 L1606.9 831.6 L1608 831.6" fill="none" stroke="#ff0000" stroke-width="3.6" stroke-linejoin="round"/>
<path d="M102 774.4 L103.3 764.7 L106.9 769.6 L109.3 768.1 L111.7 765.8 L114.1 764.1 L116.1 764.5 L118 764.7 L120 765.8 L122 765.3 L126.2 756.9 L128.9 759.1 L131.6 760.5 L135.8 753.9 L138.2 756.1 L140.6 756.9 L146.7 745.5 L148.8 745.7 L150.9 743.8 L153 743.7 L155.1 743 L157.5 741.8 L159.9 739.6 L162.3 737 L165.1 733.9 L167.8 732.2 L170 730.9 L172.2 730.9 L174.4 730.4 L176.8 730.8 L179.2 732.8 L181.6 730.8 L184.1 729 L186.5 728.6 L188.9 726.8 L190.7 728.8 L192.5 729.8 L195.2 728.1 L197.9 725 L200 726.2 L202.1 728.6 L204.5 729 L206.9 728.9 L209.4 728 L211.8 728.6 L214 728.7 L216.1 728.2 L218.3 726.3 L220.4 727 L222.6 725.6 L225 725.7 L227.4 726.1 L229.9 727.2 L232.3 727.2 L234.7 726.8 L237.1 724.6 L239.5 723.4 L241.9 721.9 L244.3 723.5 L246.7 725 L248.7 723.1 L250.7 721.2 L252.7 720.1 L254.8 719.8 L256.8 720.5 L258.9 719.2 L261 720.2 L263.1 720 L265.1 719.2 L267.2 720.1 L269 717.7 L270.8 715.9 L272.9 715.2 L275.1 714.1 L277.2 712.4 L279.3 712.3 L281.4 713.8 L283.6 714.2 L285.7 715.2 L287.8 715 L290 712.4 L292.1 711.3 L294.2 710.6 L296.2 710 L298.3 711 L300.3 709.9 L302.4 709.3 L304.4 709.6 L306.5 709.5 L308.6 711 L310.8 711.6 L312.9 711.3 L315 712.5 L317.2 709.9 L319.4 709.3 L321.6 706.5 L323.6 708 L325.5 709.6 L327.4 709.8 L329.4 711.9 L331.8 709.3 L334.2 708.3 L336.6 709.2 L339.1 709.5 L341.3 708.2 L343.5 706.3 L345.7 705.9 L347.9 706.5 L350.2 705.8 L352.4 706 L354.7 705.3 L356.8 705.5 L358.9 707.7 L361.1 707.2 L363.2 708.9 L365.6 709.2 L368 708 L370.4 707.7 L372.4 707.9 L374.4 708.8 L376.4 710 L378.5 709.3 L380.5 709.5 L382.5 710.7 L384.7 710.8 L386.9 710.4 L389.1 710.3 L391.3 710.5 L393.5 710.4 L395.7 711.3 L398.1 712 L400.6 713.4 L403 715 L405.2 714.9 L407.3 715.9 L409.5 715.3 L411.6 716 L413.8 716.2 L421 725.2 L423.4 726 L425.9 727.7 L428.3 729.4 L437.9 741.5 L448.8 759.6 L456 771.6 L464.4 782.5 L474.1 798.1 L476.1 800.6 L478.1 803.2 L480.1 806 L482.1 808.9 L484.1 812 L486.1 815.2 L488.1 818.5 L490.1 821.9 L492.1 825.9 L494.1 830.1 L496.1 834.4 L498.1 838.6 L500.1 842.5 L502.1 845.9 L504.1 848.9 L506.1 851.8 L508.1 854.5 L510.1 857.1 L512.1 859.6 L514.1 862.2 L516.1 864.8 L518.1 867.5 L520.1 870.1 L522.1 872.5 L524.1 874.8 L526.1 876.8 L528.1 878.6 L530.1 880.4 L532.1 882 L534.1 883.5 L536.1 884.8 L538.1 886 L540.1 886.9 L542.1 887.8 L544.1 888.6 L546.1 889.4 L548.1 890.1 L550.1 890.8 L552.1 891.4 L554.1 892.1 L556.1 892.7 L558.1 893.4 L560.1 894.1 L562.1 894.8 L564.1 895.6 L566.1 896.3 L568.1 897 L570.1 897.7 L572.1 898.4 L574.1 899.1 L576.1 899.8 L578.1 900.6 L580.1 901.3 L582.1 902.1 L584.1 902.9 L586.1 903.7 L588.1 904.4 L590.1 905.2 L592.1 906 L594.1 906.7 L596.1 907.5 L598.1 908.2 L600.1 908.8 L602.1 909.5 L604.1 910.1 L606.1 910.8 L608.1 911.4 L610.1 912.1 L612.1 912.7 L614.1 913.4 L616.1 914.1 L618.1 914.8 L620.1 915.5 L622.1 916.3 L624.1 917.1 L626.1 917.9 L628.1 918.7 L630.1 919.5 L632.1 920.3 L634.1 921.2 L636.1 922 L638.1 922.8 L640.1 923.6 L642.1 924.4 L644.1 925.2 L646.1 926.1 L648.1 926.9 L650.1 927.8 L652.1 928.6 L654.1 929.4 L656.1 930.2 L658.1 930.9 L660.1 931.7 L662.1 932.4 L664.1 933 L666.1 933.6 L668.1 934.2 L670.1 934.8 L672.1 935.3 L674.1 935.9 L676.1 936.5 L678.1 937.2 L680.1 937.8 L682.1 938.6 L684.1 939.4 L686.1 940.2 L688.1 941 L690.1 941.9 L692.1 942.8 L694.1 943.7 L696.1 944.6 L698.1 945.5 L700.1 946.4 L702.1 947.3 L704.1 948.1 L706.1 948.9 L708.1 949.7 L710.1 950.5 L712.1 951.3 L714.1 952.1 L716.1 952.9 L718.1 953.7 L720.1 954.5 L722.1 955.3 L724.1 956.1 L726.1 956.9 L728.1 957.7 L730.1 958.5 L732.1 959.3 L734.1 960.1 L736.1 960.9 L738.1 961.7 L740.1 962.6 L742.1 963.4 L744.1 964.2 L746.1 965 L748.1 965.8 L750.1 966.6 L752.1 967.3 L754.1 968.1 L756.1 968.8 L758.1 969.5 L760.1 970.2 L762.1 970.9 L764.1 971.6 L766.1 972.3 L768.1 973 L770.1 973.6 L772.1 974.3 L774.1 975 L776.1 975.7 L778.1 976.4 L780.1 977.1 L782.1 977.8 L784.1 978.5 L786.1 979.2 L788.1 979.9 L790.1 980.6 L792.1 981.3 L794.1 982 L796.1 982.7 L798.1 983.4 L800.1 984 L802.1 984.7 L804.1 985.4 L806.1 986 L808.1 986.7 L810.1 987.3 L812.1 988 L814.1 988.6 L816.1 989.3 L818.1 989.9 L820.1 990.6 L822.1 991.2 L824.1 991.9 L826.1 992.6 L828.1 993.3 L830.1 994 L832.1 994.7 L834.1 995.4 L836.1 996.2 L838.1 996.9 L840.1 997.6 L842.1 998.3 L844.1 999 L846.1 999.6 L848.1 1000.3 L850.1 1000.9 L852.1 1001.5 L854.1 1002.1 L856.1 1002.7 L858.1 1003.2 L860.1 1003.8 L862.1 1004.3 L864.1 1004.9 L866.1 1005.4 L868.1 1005.9 L870.1 1006.4 L872.1 1007 L874.1 1007.5 L876.1 1008 L878.1 1008.5 L880.1 1009 L882.1 1009.5 L884.1 1010.1 L886.1 1010.6 L888.1 1011.1 L890.1 1011.6 L892.1 1012.1 L894.1 1012.6 L896.1 1013.1 L898.1 1013.6 L900.1 1014 L902.1 1014.5 L904.1 1014.9 L906.1 1015.3 L908.1 1015.7 L910.1 1016 L912.1 1016.4 L914.1 1016.8 L916.1 1017.1 L918.1 1017.5 L920.1 1017.8 L922.1 1018.2 L924.1 1018.5 L926.1 1018.8 L928.1 1019.1 L930.1 1019.5 L932.1 1019.8 L934.1 1020.1 L936.1 1020.4 L938.1 1020.7 L940.1 1021.1 L942.1 1021.4 L944.1 1021.7 L946.1 1022 L948.1 1022.3 L950.1 1022.6 L952.1 1022.9 L954.1 1023.2 L956.1 1023.5 L958.1 1023.8 L960.1 1024 L962.1 1024.3 L964.1 1024.6 L966.1 1024.9 L968.1 1025.1 L970.1 1025.4 L972.1 1025.6 L974.1 1025.9 L976.1 1026.2 L978.1 1026.4 L980.1 1026.7 L982.1 1026.9 L984.1 1027.1 L986.1 1027.4 L988.1 1027.6 L990.1 1027.8 L992.1 1028.1 L994.1 1028.3 L996.1 1028.5 L998.1 1028.7 L1000.1 1029 L1002.1 1029.2 L1004.1 1029.4 L1006.1 1029.6 L1008.1 1029.8 L1010.1 1030 L1012.1 1030.2 L1014.1 1030.5 L1016.1 1030.7 L1018.1 1030.9 L1020.1 1031 L1022.1 1031.2 L1024.1 1031.4 L1026.1 1031.6 L1028.1 1031.8 L1030.1 1032 L1032.1 1032.1 L1034.1 1032.3 L1036.1 1032.4 L1038.1 1032.6 L1040.1 1032.8 L1042.1 1032.9 L1044.1 1033.1 L1046.1 1033.2 L1048.1 1033.4 L1050.1 1033.5 L1052.1 1033.6 L1054.1 1033.8 L1056.1 1033.9 L1058.1 1034 L1060.1 1034.1 L1062.1 1034.2 L1064.1 1034.3 L1066.1 1034.4 L1068.1 1034.5 L1070.1 1034.6 L1072.1 1034.7 L1074.1 1034.7 L1076.1 1034.8 L1078.1 1034.9 L1080.1 1034.9 L1082.1 1035 L1084.1 1035 L1086.1 1035.1 L1088.1 1035.1 L1090.1 1035.2 L1092.1 1035.3 L1094.1 1035.3 L1096.1 1035.4 L1098.1 1035.4 L1100.1 1035.5 L1102.1 1035.6 L1104.1 1035.6 L1106.1 1035.7 L1108.1 1035.8 L1110.1 1035.8 L1112.1 1035.9 L1114.1 1036 L1116.1 1036 L1118.1 1036.1 L1120.1 1036.2 L1122.1 1036.3 L1124.1 1036.3 L1126.1 1036.4 L1128.1 1036.5 L1130.1 1036.5 L1132.1 1036.6 L1134.1 1036.7 L1136.1 1036.8 L1138.1 1036.8 L1140.1 1036.9 L1142.1 1037 L1144.1 1037.1 L1146.1 1037.1 L1148.1 1037.2 L1150.1 1037.3 L1152.1 1037.3 L1154.1 1037.4 L1156.1 1037.5 L1158.1 1037.6 L1160.1 1037.6 L1162.1 1037.7 L1164.1 1037.8 L1166.1 1037.8 L1168.1 1037.9 L1170.1 1038 L1172.1 1038.1 L1174.1 1038.1 L1176.1 1038.2 L1178.1 1038.3 L1180.1 1038.3 L1182.1 1038.4 L1184.1 1038.5 L1186.1 1038.5 L1188.1 1038.6 L1190.1 1038.7 L1192.1 1038.7 L1194.1 1038.8 L1196.1 1038.9 L1198.1 1038.9 L1200.1 1039 L1202.1 1039.1 L1204.1 1039.1 L1206.1 1039.2 L1208.1 1039.2 L1210.1 1039.3 L1212.1 1039.4 L1214.1 1039.4 L1216.1 1039.5 L1218.1 1039.5 L1220.1 1039.6 L1222.1 1039.6 L1224.1 1039.7 L1226.1 1039.7 L1228.1 1039.8 L1230.1 1039.9 L1232.1 1039.9 L1234.1 1040 L1236.1 1040 L1238.1 1040.1 L1240.1 1040.1 L1242.1 1040.2 L1244.1 1040.2 L1246.1 1040.3 L1248.1 1040.3 L1250.1 1040.4 L1252.1 1040.4 L1254.1 1040.5 L1256.1 1040.5 L1258.1 1040.6 L1260.1 1040.6 L1262.1 1040.7 L1264.1 1040.7 L1266.1 1040.8 L1268.1 1040.8 L1270.1 1040.9 L1272.1 1040.9 L1274.1 1041 L1276.1 1041 L1278.1 1041 L1280.1 1041.1 L1282.1 1041.1 L1284.1 1041.2 L1286.1 1041.2 L1288.1 1041.3 L1290.1 1041.3 L1292.1 1041.4 L1294.1 1041.4 L1296.1 1041.5 L1298.1 1041.5 L1300.1 1041.6 L1302.1 1041.6 L1304.1 1041.7 L1306.1 1041.7 L1308.1 1041.8 L1310.1 1041.8 L1312.1 1041.9 L1314.1 1041.9 L1316.1 1042 L1318.1 1042 L1320.1 1042.1 L1322.1 1042.1 L1324.1 1042.2 L1326.1 1042.2 L1328.1 1042.3 L1330.1 1042.3 L1332.1 1042.4 L1334.1 1042.4 L1336.1 1042.5 L1338.1 1042.5 L1340.1 1042.6 L1342.1 1042.6 L1344.1 1042.7 L1346.1 1042.8 L1348.1 1042.8 L1350.1 1042.9 L1352.1 1042.9 L1354.1 1043 L1356.1 1043.1 L1358.1 1043.1 L1360.1 1043.2 L1362.1 1043.3 L1364.1 1043.3 L1366.1 1043.4 L1368.1 1043.4 L1370.1 1043.5 L1372.1 1043.6 L1374.1 1043.6 L1376.1 1043.7 L1378.1 1043.8 L1380.1 1043.9 L1382.1 1043.9 L1384.1 1044 L1386.1 1044.1 L1388.1 1044.1 L1390.1 1044.2 L1392.1 1044.3 L1394.1 1044.3 L1396.1 1044.4 L1398.1 1044.5 L1400.1 1044.5 L1402.1 1044.6 L1404.1 1044.7 L1406.1 1044.7 L1408.1 1044.8 L1410.1 1044.9 L1412.1 1044.9 L1414.1 1045 L1416.1 1045.1 L1418.1 1045.1 L1420.1 1045.2 L1422.1 1045.3 L1424.1 1045.3 L1426.1 1045.4 L1428.1 1045.5 L1430.1 1045.5 L1432.1 1045.6 L1434.1 1045.6 L1436.1 1045.7 L1438.1 1045.8 L1440.1 1045.8 L1442.1 1045.9 L1444.1 1045.9 L1446.1 1046 L1448.1 1046 L1450.1 1046.1 L1452.1 1046.1 L1454.1 1046.2 L1456.1 1046.2 L1458.1 1046.3 L1460.1 1046.3 L1462.1 1046.3 L1464.1 1046.4 L1466.1 1046.4 L1468.1 1046.5 L1470.1 1046.5 L1472.1 1046.5 L1474.1 1046.6 L1476.1 1046.6 L1478.1 1046.6 L1480.1 1046.7 L1482.1 1046.7 L1484.1 1046.7 L1486.1 1046.8 L1488.1 1046.8 L1490.1 1046.8 L1492.1 1046.9 L1494.1 1046.9 L1496.1 1046.9 L1498.1 1047 L1500.1 1047 L1502.1 1047 L1504.1 1047 L1506.1 1047.1 L1508.1 1047.1 L1510.1 1047.1 L1512.1 1047.2 L1514.1 1047.2 L1516.1 1047.2 L1518.1 1047.3 L1520.1 1047.3 L1522.1 1047.3 L1524.1 1047.3 L1526.1 1047.4 L1528.1 1047.4 L1530.1 1047.4 L1532.1 1047.5 L1534.1 1047.5 L1536.1 1047.5 L1538.1 1047.5 L1540.1 1047.6 L1542.1 1047.6 L1544.1 1047.6 L1546.1 1047.6 L1548.1 1047.7 L1550.1 1047.7 L1552.1 1047.7 L1554.1 1047.7 L1556.1 1047.7 L1558.1 1047.8 L1560.1 1047.8 L1562.1 1047.8 L1564.1 1047.8 L1566.1 1047.8 L1568.1 1047.9 L1570.1 1047.9 L1572.1 1047.9 L1574.1 1047.9 L1576.1 1047.9 L1578.1 1048 L1580.1 1048 L1582.1 1048 L1584.1 1048 L1586.1 1048 L1588.1 1048 L1590.1 1048 L1592.1 1048 L1594.1 1048.1 L1596.1 1048.1 L1598.1 1048.1 L1600.1 1048.1 L1602.1 1048.1 L1604.1 1048.1 L1606.1 1048.1 L1608 1048.1" fill="none" stroke="#000" stroke-width="3.6" stroke-linejoin="round"/>
<text transform="translate(101.2 1225.5) scale(1 1.03)" font-size="61" text-anchor="middle">200</text>
<text transform="translate(352.4 1225.5) scale(1 1.03)" font-size="61" text-anchor="middle">300</text>
<text transform="translate(603.6 1225.5) scale(1 1.03)" font-size="61" text-anchor="middle">400</text>
<text transform="translate(854.8 1225.5) scale(1 1.03)" font-size="61" text-anchor="middle">500</text>
<text transform="translate(1105.9 1225.5) scale(1 1.03)" font-size="61" text-anchor="middle">600</text>
<text transform="translate(1357.1 1225.5) scale(1 1.03)" font-size="61" text-anchor="middle">700</text>
<text transform="translate(1608.3 1225.5) scale(1 1.03)" font-size="61" text-anchor="middle">800</text>
<text transform="translate(853.5 1302.8) scale(1 1.03)" font-size="60.5" text-anchor="middle">Wavelength (nm)</text>
<text transform="translate(57 583.5) rotate(-90) scale(1 1.03)" font-size="60.7" text-anchor="middle">Absorbance (a.u.)</text>
<text transform="translate(1323.7 388) scale(1 1.03)" font-size="60">VSbWTi-S</text>
<text transform="translate(1373.4 618) scale(1 1.03)" font-size="60">VSbWTi</text>
<text transform="translate(1372.1 817) scale(1 1.03)" font-size="60.8">VSbTi-S</text>
<text transform="translate(1428.3 1026) scale(1 1.03)" font-size="60.3">VSbTi</text>
<text transform="translate(836.5 479.3) scale(1 1.03)" font-size="60">516</text>
<text transform="translate(909.4 693.8) scale(1 1.03)" font-size="60">542</text>
<text transform="translate(889.4 902.3) scale(1 1.03)" font-size="60">532</text>
<text transform="translate(892.7 1103.2) scale(1 1.03)" font-size="60">534</text>
</svg>
</body></html>
